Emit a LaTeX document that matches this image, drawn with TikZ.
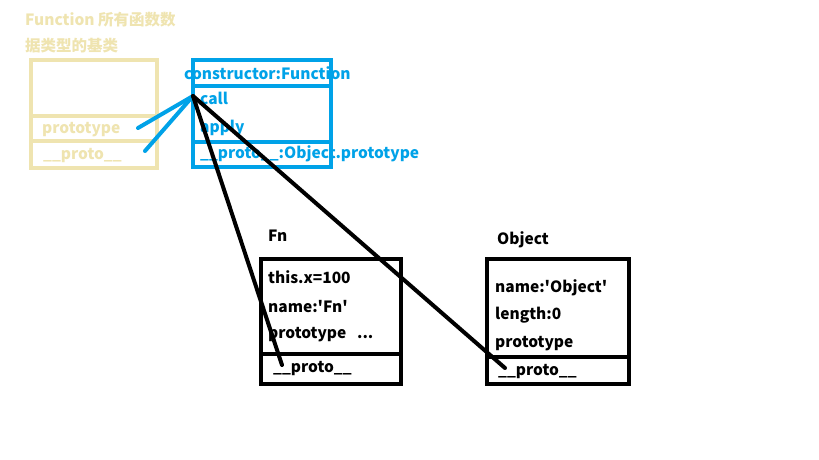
\documentclass[tikz,border=0pt]{standalone}
\usepackage{fontspec}
\setmainfont{Noto Sans CJK SC}[Ligatures=TeXOff]
\usepackage{xcolor}
\definecolor{paleyellow}{HTML}{EFE4B0}
\definecolor{paintblue}{HTML}{00A2E8}

\begin{document}
\begin{tikzpicture}[x=1pt, y=-1pt,
                    txt/.style={anchor=base west, inner sep=0pt, font=\fontsize{15.5}{18}\selectfont\bfseries},
                    oldbox/.style={draw=paleyellow, line width=4pt},
                    protobox/.style={draw=paintblue, line width=4pt},
                    objbox/.style={draw=black, line width=4pt},
                    stroke/.style={line width=4pt, line cap=round}]
                                \useasboundingbox[fill=white] (0, 0) rectangle (819, 460);

                                \draw[oldbox] (31, 60) rectangle (157, 168);
                                \draw[oldbox] (31, 116) -- (157, 116);
                                \draw[oldbox] (31, 141) -- (157, 141);
                                \node (title1) at (25, 26) [txt, paleyellow] {Function 所有函数数};
                                \node (title2) at (25, 52) [txt, paleyellow] {据类型的基类};
                                \node (oldproto) at (42, 133) [txt, paleyellow] {prototype};
                                \node (oldupper) at (43, 159) [txt, paleyellow] {\_\_proto\_\_};

                                \draw[protobox] (193, 60) rectangle (331, 167);
                                \draw[protobox] (193, 86) -- (331, 86);
                                \draw[protobox] (193, 142) -- (331, 142);
                                \node (ctor) at (184, 79) [txt, paintblue] {constructor:Function};
                                \node (call) at (200, 104) [txt, paintblue] {call};
                                \node (apply) at (200, 132) [txt, paintblue] {apply};
                                \node (fproto) at (200, 158) [txt, paintblue] {\_\_proto\_\_:Object.prototype};

                                \draw[objbox] (261, 259) rectangle (401, 384);
                                \draw[objbox] (261, 354) -- (401, 354);
                                \node (fnlabel) at (268, 241) [txt] {Fn};
                                \node (fnx) at (268, 283) [txt] {this.x=100};
                                \node (fnname) at (268, 312) [txt] {name:'Fn'};
                                \node (fnproto) at (268, 338) [txt] {prototype\ \ \ ...};
                                \node (fnupper) at (273, 372) [txt] {\_\_proto\_\_};

                                \draw[objbox] (487, 259) rectangle (629, 384);
                                \draw[objbox] (487, 357) -- (631, 357);
                                \node (objlabel) at (497, 244) [txt] {Object};
                                \node (objname) at (495, 292) [txt] {name:'Object'};
                                \node (objlen) at (495, 319) [txt] {length:0};
                                \node (objproto) at (495, 347) [txt] {prototype};
                                \node (objupper) at (498, 375) [txt] {\_\_proto\_\_};

                                \coordinate (callpt) at (193, 96);
                                \coordinate (fnend) at (282, 365);
                                \coordinate (objend) at (505, 368);
                                \coordinate (oldp) at (138, 128);
                                \coordinate (oldu) at (145, 151);

                                \draw[stroke, paintblue] (oldp) to (callpt);
                                \draw[stroke, paintblue] (oldu) to (callpt);
                                \draw[stroke] (callpt) to (fnend);
                                \draw[stroke] (callpt) to (objend);
                            \end{tikzpicture}
\end{document}
